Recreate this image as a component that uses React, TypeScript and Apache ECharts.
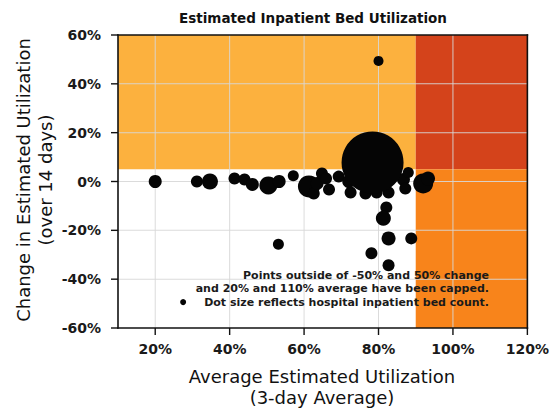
import React, { useEffect, useRef } from "react";
import * as echarts from "echarts";

const titleText = "Estimated Inpatient Bed Utilization";
const xAxisNameLines = ["Average Estimated Utilization", "(3-day Average)"];
const yAxisNameLines = ["Change in Estimated Utilization", "(over 14 days)"];
const noteLines = [
  "Points outside of -50% and 50% change",
  "and 20% and 110% average have been capped.",
  "Dot size reflects hospital inpatient bed count.",
];

// x: average utilization (%), y: change (%), beds: inpatient bed count
const xValues = [
  20.0, 31.2, 34.7, 41.3, 44.0, 46.1, 50.4, 53.3, 57.1, 61.3, 62.6, 63.5, 64.8, 65.9,
  66.7, 69.3, 72.0, 72.5, 75.2, 76.5, 77.3, 79.5, 80.0, 82.1, 82.7, 84.5, 86.7, 87.2,
  88.0, 92.0, 93.3, 82.1, 81.3, 82.7, 88.8, 78.1, 82.7, 53.1, 80.0, 27.5, 78.4,
];
const yValues = [
  0.0, 0.0, 0.0, 1.2, 0.8, -1.2, -1.6, 0.0, 2.4, -2.0, -4.9, -0.8, 3.3, 1.2,
  -3.3, 2.0, 0.0, -4.5, 3.3, -4.9, 0.4, -4.5, 3.3, 0.4, -4.5, 3.7, 0.8, -2.9,
  3.7, -0.8, 1.2, -10.6, -15.1, -23.3, -23.3, -29.4, -34.3, -25.7, 49.4, -49.4, 7.8,
];
const bedCounts = [
  169, 144, 256, 144, 144, 169, 324, 169, 121, 484, 144, 169, 144, 144,
  144, 144, 169, 144, 144, 144, 169, 144, 144, 169, 144, 144, 169, 144,
  121, 400, 196, 144, 225, 196, 144, 144, 144, 121, 100, 36, 3844,
];

const xMin = 10;
const xMax = 120;
const yMin = -60;
const yMax = 60;
const xTicks = [20, 40, 60, 80, 100, 120];
const yTicks = [-60, -40, -20, 0, 20, 40, 60];
const xThreshold = 90;
const yThreshold = 5;

const zoneColors = ["#FCB13E", "#D4431B", "#F8841B"];

const FONT = "DejaVu Sans";

export default function App() {
  const ref = useRef<HTMLDivElement>(null);

  useEffect(() => {
    if (!ref.current) return;
    const chart = echarts.init(ref.current, undefined, { renderer: "svg" });
    const data = xValues.map((x, i) => [x, yValues[i], bedCounts[i]]);
    const zones = [
      [xMin, yThreshold, xThreshold, yMax, 0],
      [xThreshold, yThreshold, xMax, yMax, 1],
      [xThreshold, yMin, xMax, yThreshold, 2],
    ];

    const labelStyle = {
      fontFamily: FONT,
      fontSize: 14,
      fontWeight: "bold",
      color: "#1a1a1a",
    };

    chart.setOption({
      animation: false,
      backgroundColor: "#ffffff",
      grid: { left: 118, right: 22, top: 35, bottom: 80 },
      xAxis: {
        type: "value",
        min: xMin,
        max: xMax,
        axisLine: { show: false, onZero: false },
        axisTick: { show: false },
        axisLabel: {
          ...labelStyle,
          margin: 14,
          customValues: xTicks,
          formatter: (v: number) => v + "%",
        },
        splitLine: { show: false },
      },
      yAxis: {
        type: "value",
        min: yMin,
        max: yMax,
        interval: 20,
        axisLine: { show: false, onZero: false },
        axisTick: { show: false },
        axisLabel: {
          ...labelStyle,
          margin: 17,
          formatter: (v: number) => v + "%",
        },
        splitLine: { show: false },
      },
      series: [
        {
          type: "custom",
          z: 0,
          silent: true,
          data: zones,
          renderItem: (params: any, api: any) => {
            const p0 = api.coord([api.value(0), api.value(1)]);
            const p1 = api.coord([api.value(2), api.value(3)]);
            return {
              type: "rect",
              shape: {
                x: Math.min(p0[0], p1[0]),
                y: Math.min(p0[1], p1[1]),
                width: Math.abs(p1[0] - p0[0]),
                height: Math.abs(p1[1] - p0[1]),
              },
              style: { fill: zoneColors[api.value(4)] },
            };
          },
        },
        {
          type: "scatter",
          z: 4,
          data,
          symbolSize: (v: number[]) => Math.sqrt(v[2]),
          itemStyle: { color: "#050505", opacity: 1 },
        },
      ],
    });

    // Pixel positions from the library's own scales
    const px = (x: number, y: number) =>
      chart.convertToPixel({ gridIndex: 0 }, [x, y]) as number[];
    const tl = px(xMin, yMax);
    const br = px(xMax, yMin);
    const left = tl[0];
    const top = tl[1];
    const right = br[0];
    const bottom = br[1];

    const fillRect = (x: number, y: number, w: number, h: number, fill: string, z: number) => ({
      type: "rect",
      z,
      silent: true,
      shape: { x, y, width: w, height: h },
      style: { fill },
    });

    const gridColor = "rgba(215,215,215,0.9)";
    const gridRects = [
      ...xTicks.slice(0, -1).map((v) => {
        const p = px(v, 0);
        return fillRect(p[0] - 0.5, top, 1, bottom - top, gridColor, 1);
      }),
      ...yTicks.slice(1, -1).map((v) => {
        const p = px(0, v);
        return fillRect(left, p[1] - 0.5, right - left, 1, gridColor, 1);
      }),
    ];
    const fw = 1.6;
    const frameRects = [
      fillRect(left - fw / 2, top - fw / 2, right - left + fw, fw, "#111", 20),
      fillRect(left - fw / 2, bottom - fw / 2, right - left + fw, fw, "#111", 20),
      fillRect(left - fw / 2, top - fw / 2, fw, bottom - top + fw, "#111", 20),
      fillRect(right - fw / 2, top - fw / 2, fw, bottom - top + fw, "#111", 20),
      ...xTicks.map((v) => {
        const p = px(v, yMin);
        return fillRect(p[0] - 0.7, bottom, 1.4, 7, "#111", 20);
      }),
      ...yTicks.map((v) => {
        const p = px(xMin, v);
        return fillRect(left - 7, p[1] - 0.7, 7, 1.4, "#111", 20);
      }),
    ];

    chart.setOption({
      graphic: [
        ...gridRects,
        ...frameRects,
        {
          type: "text",
          x: 313,
          y: 18,
          style: {
            text: titleText,
            fontFamily: FONT,
            fontSize: 13.5,
            fontWeight: "bold",
            fill: "#111",
            align: "center",
            verticalAlign: "middle",
          },
        },
        ...xAxisNameLines.map((t, i) => ({
          type: "text",
          x: 322,
          y: 376 + i * 21,
          style: {
            text: t,
            fontFamily: FONT,
            fontSize: 18,
            fill: "#111",
            align: "center",
            verticalAlign: "middle",
          },
        })),
        ...yAxisNameLines.map((t, i) => ({
          type: "text",
          x: 23 + i * 22,
          y: 180,
          rotation: Math.PI / 2,
          style: {
            text: t,
            fontFamily: FONT,
            fontSize: 18,
            fill: "#111",
            align: "center",
            verticalAlign: "middle",
          },
        })),
        ...noteLines.map((t, i) => ({
          type: "text",
          x: 489,
          y: 275 + i * 13.5,
          z: 30,
          style: {
            text: t,
            fontFamily: FONT,
            fontSize: 11,
            fontWeight: "bold",
            fill: "#1a1a1a",
            align: "right",
            verticalAlign: "middle",
          },
        })),
      ],
    });

    return () => chart.dispose();
  }, []);

  return (
    <div
      ref={ref}
      style={{ position: "fixed", left: 0, top: 0, width: 552, height: 408 }}
    />
  );
}
